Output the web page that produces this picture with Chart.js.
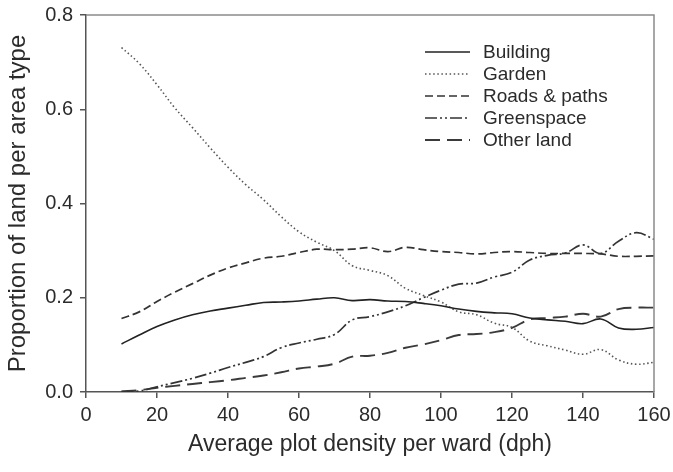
<!DOCTYPE html>
<html>
<head>
<meta charset="utf-8">
<script src="https://cdn.jsdelivr.net/npm/chart.js@4/dist/chart.umd.min.js"></script>
<style>
  html, body { margin: 0; padding: 0; background: #fff; }
  #wrap { width: 673px; height: 472px; }
</style>
</head>
<body>
<div id="wrap"><canvas id="c" width="673" height="472"></canvas></div>
<script>
// Average plot density per ward (dph)
const density = [10, 15, 20, 25, 30, 35, 40, 45, 50, 55, 60, 65, 70, 75, 80, 85, 90, 95, 100,
                 105, 110, 115, 120, 125, 130, 135, 140, 145, 150, 155, 160];

// Proportion of land in each area type
const building = [0.102, 0.121, 0.139, 0.153, 0.164, 0.172, 0.178, 0.184, 0.190, 0.191, 0.193,
                  0.197, 0.200, 0.194, 0.196, 0.193, 0.192, 0.188, 0.183, 0.176, 0.171, 0.168,
                  0.166, 0.157, 0.153, 0.150, 0.145, 0.155, 0.136, 0.133, 0.137];
const garden = [0.731, 0.697, 0.652, 0.603, 0.561, 0.518, 0.477, 0.440, 0.408, 0.372, 0.340,
                0.318, 0.300, 0.268, 0.258, 0.247, 0.220, 0.205, 0.191, 0.170, 0.164, 0.146,
                0.137, 0.108, 0.098, 0.089, 0.080, 0.090, 0.068, 0.059, 0.063];
const roads = [0.156, 0.170, 0.192, 0.212, 0.230, 0.248, 0.263, 0.274, 0.284, 0.288, 0.296,
               0.303, 0.302, 0.303, 0.306, 0.298, 0.307, 0.302, 0.298, 0.296, 0.293, 0.296,
               0.298, 0.296, 0.294, 0.294, 0.294, 0.293, 0.288, 0.288, 0.289];
const greenspace = [0.001, 0.002, 0.011, 0.020, 0.029, 0.040, 0.052, 0.063, 0.075, 0.094, 0.104,
                    0.112, 0.122, 0.153, 0.160, 0.170, 0.183, 0.200, 0.216, 0.229, 0.231, 0.244,
                    0.254, 0.280, 0.290, 0.295, 0.312, 0.294, 0.320, 0.338, 0.324];
const otherLand = [0.001, 0.004, 0.009, 0.013, 0.017, 0.021, 0.025, 0.030, 0.035, 0.042, 0.050,
                   0.054, 0.060, 0.075, 0.077, 0.083, 0.094, 0.101, 0.110, 0.121, 0.123, 0.127,
                   0.136, 0.154, 0.157, 0.160, 0.166, 0.160, 0.176, 0.179, 0.179];

const seriesNames = ['Building', 'Garden', 'Roads & paths', 'Greenspace', 'Other land'];
const xTicks = [0, 20, 40, 60, 80, 100, 120, 140, 160];
const yTicks = [0.0, 0.2, 0.4, 0.6, 0.8];

const FONT = "'Liberation Sans', Arial, sans-serif";
const INK = '#2b2b2b';
const AXIS = '#555555';

function pts(values) {
  return density.map((d, i) => ({ x: d, y: values[i] }));
}

const styles = [
  { color: '#222222', width: 1.6, dash: [] },
  { color: '#555555', width: 1.6, dash: [1.5, 2.6] },
  { color: '#333333', width: 1.7, dash: [8, 4] },
  { color: '#333333', width: 1.7, dash: [12, 3, 2, 3, 2, 3] },
  { color: '#3a3a3a', width: 1.9, dash: [15, 7] }
];

const seriesValues = [building, garden, roads, greenspace, otherLand];

const datasets = seriesValues.map((vals, i) => ({
  label: seriesNames[i],
  data: pts(vals),
  borderColor: styles[i].color,
  borderWidth: styles[i].width,
  borderDash: styles[i].dash,
  pointRadius: 0,
  tension: 0.4,
  fill: false
}));

// Frame around the plot area and a line-sample legend inside it
const framePlugin = {
  id: 'frameAndKey',
  afterDraw(chart) {
    const { ctx, chartArea: a } = chart;
    ctx.save();
    ctx.strokeStyle = '#8a8a8a';
    ctx.lineWidth = 1.5;
    ctx.setLineDash([]);
    ctx.beginPath();
    ctx.moveTo(a.left, a.top);
    ctx.lineTo(a.right, a.top);
    ctx.lineTo(a.right, a.bottom);
    ctx.stroke();

    const x0 = 425, x1 = 470, tx = 483, y0 = 52, dy = 22;
    ctx.font = '19px ' + FONT;
    ctx.textBaseline = 'middle';
    ctx.textAlign = 'left';
    chart.data.datasets.forEach((ds, i) => {
      const y = y0 + i * dy;
      ctx.strokeStyle = ds.borderColor;
      ctx.lineWidth = ds.borderWidth;
      ctx.setLineDash(ds.borderDash);
      ctx.beginPath();
      ctx.moveTo(x0, y);
      ctx.lineTo(x1, y);
      ctx.stroke();
      ctx.setLineDash([]);
      ctx.fillStyle = INK;
      ctx.fillText(ds.label, tx, y + 1);
    });
    ctx.restore();
  }
};

new Chart(document.getElementById('c'), {
  type: 'line',
  data: { datasets },
  options: {
    responsive: false,
    animation: false,
    layout: { padding: { top: 15, right: 19, bottom: 10, left: 0 } },
    plugins: { legend: { display: false }, tooltip: { enabled: false } },
    scales: {
      x: {
        type: 'linear',
        min: 0,
        max: 160,
        afterBuildTicks(scale) { scale.ticks = xTicks.map(v => ({ value: v })); },
        afterFit(scale) {
          scale.height = 70;
          scale.paddingLeft = 0;
          scale.paddingRight = 0;
        },
        ticks: { color: INK, font: { family: FONT, size: 20 }, padding: 5, maxRotation: 0 },
        grid: { drawOnChartArea: false, drawTicks: true, tickLength: 6, color: AXIS, lineWidth: 1.5 },
        border: { display: true, color: AXIS, width: 1.5 },
        title: { display: true, text: 'Average plot density per ward (dph)', color: INK,
                 font: { family: FONT, size: 23 } }
      },
      y: {
        type: 'linear',
        min: 0,
        max: 0.8,
        afterBuildTicks(scale) { scale.ticks = yTicks.map(v => ({ value: v })); },
        afterFit(scale) {
          scale.width = 86;
          scale.paddingTop = 0;
          scale.paddingBottom = 0;
        },
        ticks: { color: INK, font: { family: FONT, size: 20 }, padding: 7,
                 callback: v => Number(v).toFixed(1) },
        grid: { drawOnChartArea: false, drawTicks: true, tickLength: 6, color: AXIS, lineWidth: 1.5 },
        border: { display: true, color: AXIS, width: 1.5 },
        title: { display: true, text: 'Proportion of land per area type', color: INK,
                 font: { family: FONT, size: 24 } }
      }
    }
  },
  plugins: [framePlugin]
});
</script>
</body>
</html>
